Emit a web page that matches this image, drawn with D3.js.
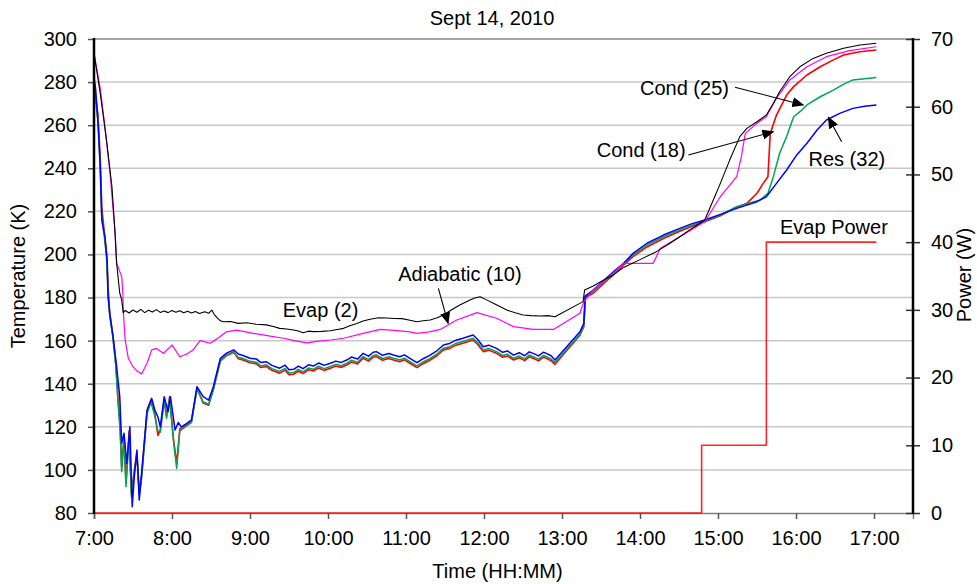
<!DOCTYPE html>
<html><head><meta charset="utf-8">
<script src="https://cdn.jsdelivr.net/npm/d3@7"></script>
<style>
html,body{margin:0;padding:0;background:#fff;}
text{font-family:"Liberation Sans",Arial,sans-serif;}
</style></head>
<body><svg id="c" width="977" height="584"></svg>
<script>
// ---- data (time in decimal hours, temperature in K, power in W) ----
const title = "Sept 14, 2010";
const hourTicks = [7,8,9,10,11,12,13,14,15,16,17];
const tempTicks = [80,100,120,140,160,180,200,220,240,260,280,300];
const powerTicks = [0,10,20,30,40,50,60,70];

const evap2 = [[7.00,293.4],[7.08,274.9],[7.16,253.1],[7.23,231.4],[7.27,210.0],[7.29,196.0],[7.33,182.1],[7.355,178.9],[7.375,172.9],[7.40,174.0],[7.45,172.8],[7.50,174.2],[7.55,173.2],[7.60,174.5],[7.65,173.0],[7.70,174.1],[7.75,173.3],[7.80,174.4],[7.85,173.1],[7.90,173.8],[7.95,173.0],[8.00,174.0],[8.05,173.2],[8.10,173.9],[8.15,172.9],[8.20,173.6],[8.25,172.8],[8.30,173.5],[8.35,172.6],[8.42,173.4],[8.47,172.7],[8.51,174.2],[8.54,172.2],[8.58,170.6],[8.62,169.2],[8.66,168.8],[8.75,168.9],[8.85,168.0],[8.96,168.3],[9.08,167.6],[9.21,167.3],[9.30,166.6],[9.38,165.7],[9.47,165.4],[9.56,164.9],[9.62,164.5],[9.68,163.7],[9.75,164.4],[9.81,164.2],[9.92,164.3],[10.03,164.6],[10.12,165.2],[10.20,165.7],[10.28,166.9],[10.37,168.0],[10.45,169.1],[10.54,169.9],[10.65,170.6],[10.75,170.5],[10.85,170.3],[10.95,170.2],[11.05,169.5],[11.14,168.8],[11.22,169.2],[11.31,169.6],[11.40,170.6],[11.48,171.9],[11.58,174.2],[11.69,176.5],[11.80,178.5],[11.88,179.8],[11.95,180.4],[12.04,178.8],[12.12,177.3],[12.21,175.7],[12.29,174.2],[12.40,172.9],[12.50,171.9],[12.60,171.6],[12.72,171.4],[12.82,171.6],[12.91,171.1],[13.27,178.1],[13.29,183.5],[13.40,185.4],[13.53,188.0],[13.66,190.5],[13.79,194.0],[14.00,197.6],[14.21,201.3],[14.36,204.6],[14.51,208.2],[14.67,212.2],[14.83,216.0],[14.94,225.3],[15.03,233.0],[15.15,243.8],[15.28,254.7],[15.37,258.5],[15.50,261.6],[15.62,264.7],[15.71,270.2],[15.79,275.5],[15.92,282.5],[16.05,287.1],[16.22,291.0],[16.39,293.4],[16.61,295.7],[16.82,297.2],[17.03,298.0]];

const adiabatic10 = [[7.00,293.4],[7.08,277.1],[7.14,259.3],[7.21,236.1],[7.27,210.0],[7.29,195.9],[7.355,189.7],[7.37,182.1],[7.375,174.2],[7.40,160.3],[7.44,151.8],[7.50,147.9],[7.55,146.0],[7.61,144.5],[7.68,149.5],[7.74,155.7],[7.80,156.4],[7.89,154.1],[8.00,158.0],[8.10,152.5],[8.19,153.8],[8.27,155.7],[8.36,160.0],[8.49,158.8],[8.60,161.5],[8.70,164.1],[8.83,164.9],[9.04,163.4],[9.24,162.2],[9.43,161.1],[9.60,159.8],[9.73,159.0],[9.88,159.8],[10.03,160.3],[10.20,161.1],[10.45,163.4],[10.67,165.2],[10.85,164.8],[11.05,164.1],[11.14,163.4],[11.30,164.1],[11.44,165.2],[11.65,169.6],[11.91,173.0],[12.16,170.4],[12.38,166.5],[12.63,165.2],[12.89,165.2],[13.23,172.7],[13.28,178.1],[13.40,183.5],[13.60,189.5],[13.79,195.9],[14.17,195.9],[14.26,202.9],[14.55,209.0],[14.83,215.2],[15.03,226.8],[15.24,236.1],[15.30,245.4],[15.35,256.2],[15.50,260.9],[15.62,263.9],[15.75,272.5],[15.92,281.0],[16.14,287.1],[16.39,291.8],[16.69,294.6],[17.03,296.4]];

const cond18 = [[7.00,277],[7.02,274],[7.05,265],[7.08,245],[7.10,222],[7.13,211],[7.16,201],[7.18,186],[7.20,173],[7.24,163],[7.28,149],[7.31,132],[7.335,121],[7.355,101],[7.385,116],[7.41,94],[7.45,118],[7.48,89],[7.51,98],[7.55,108],[7.58,90],[7.61,97],[7.64,110],[7.68,127],[7.73,132.5],[7.78,126],[7.82,116],[7.85,118.5],[7.90,133],[7.93,125],[7.97,134],[8.02,114],[8.06,103],[8.10,119],[8.19,121],[8.25,122.5],[8.32,138],[8.40,131],[8.47,130],[8.53,137.5],[8.62,150.8],[8.70,153.2],[8.79,154.8],[8.85,151.6],[8.92,150.9],[9.00,149.7],[9.08,149.3],[9.14,147.5],[9.21,148.0],[9.28,146.2],[9.38,144.9],[9.45,146.3],[9.50,144.2],[9.56,144.4],[9.62,145.9],[9.68,144.7],[9.75,146.5],[9.81,145.9],[9.88,147.3],[9.95,146.2],[10.03,147.2],[10.10,148.2],[10.17,147.6],[10.24,148.7],[10.30,150.1],[10.38,149.2],[10.45,151.8],[10.52,150.5],[10.58,152.3],[10.62,152.6],[10.70,150.9],[10.78,151.7],[10.84,151.0],[10.92,150.2],[10.98,151.1],[11.05,149.5],[11.14,147.5],[11.22,149.3],[11.31,151.0],[11.40,153.1],[11.48,155.7],[11.56,156.4],[11.64,157.9],[11.73,158.8],[11.80,159.6],[11.86,160.3],[11.92,158.2],[11.99,154.9],[12.06,155.6],[12.16,154.1],[12.24,152.3],[12.30,152.9],[12.38,151.0],[12.45,152.1],[12.52,150.7],[12.58,152.5],[12.63,151.8],[12.70,150.6],[12.76,152.3],[12.80,151.8],[12.86,150.7],[12.91,149.0],[13.23,162.5],[13.28,166.5],[13.30,180.0],[13.40,182.0],[13.53,186.3],[13.66,190.6],[13.79,195.0],[13.91,199.0],[14.09,203.5],[14.30,207.4],[14.51,210.8],[14.66,213.0],[14.83,215.2],[15.03,218.0],[15.24,222.0],[15.37,223.7],[15.50,228.4],[15.58,233.0],[15.64,236.1],[15.67,256.2],[15.75,264.7],[15.88,274.0],[15.97,277.9],[16.14,283.3],[16.31,287.1],[16.48,290.3],[16.61,292.6],[16.82,294.1],[17.03,294.9]];

const cond25 = [[7.00,276],[7.02,272],[7.05,262],[7.08,240],[7.10,217],[7.13,209],[7.16,199],[7.18,182],[7.20,172],[7.24,162],[7.28,148],[7.31,130],[7.335,118],[7.355,99.2],[7.385,114],[7.41,92.2],[7.45,116],[7.48,87.6],[7.51,96],[7.55,107],[7.58,88],[7.61,96],[7.64,109],[7.68,126],[7.73,131.5],[7.78,125],[7.82,118],[7.85,117.5],[7.90,132],[7.93,124],[7.97,133],[8.02,113],[8.06,100.7],[8.10,118],[8.19,120.5],[8.25,122],[8.32,137.5],[8.40,131.5],[8.47,130.5],[8.53,137],[8.62,150.5],[8.70,153],[8.79,154.5],[8.85,152.3],[8.92,151.6],[9.00,150.4],[9.08,150.0],[9.14,148.2],[9.21,148.8],[9.28,147.0],[9.38,145.7],[9.45,147.1],[9.50,145.0],[9.56,145.2],[9.62,146.7],[9.68,145.5],[9.75,147.3],[9.81,146.7],[9.88,148.1],[9.95,147.0],[10.03,148.0],[10.10,149.0],[10.17,148.4],[10.24,149.5],[10.30,150.9],[10.38,150.0],[10.45,152.6],[10.52,151.3],[10.58,153.1],[10.62,153.4],[10.70,151.7],[10.78,152.5],[10.84,151.8],[10.92,151.0],[10.98,151.9],[11.05,150.3],[11.14,148.3],[11.22,150.1],[11.31,151.8],[11.40,153.9],[11.48,156.5],[11.56,157.2],[11.64,158.7],[11.73,159.6],[11.80,160.4],[11.86,161.1],[11.92,159.0],[11.99,155.7],[12.06,156.4],[12.16,154.9],[12.24,153.1],[12.30,153.7],[12.38,151.8],[12.45,152.9],[12.52,151.5],[12.58,153.3],[12.63,152.6],[12.70,151.4],[12.76,153.1],[12.80,152.6],[12.86,151.5],[12.91,149.8],[13.23,163.0],[13.28,167.0],[13.30,181.0],[13.40,182.8],[13.53,187.0],[13.66,191.2],[13.79,195.5],[13.91,199.8],[14.09,204.3],[14.30,208.2],[14.51,211.4],[14.66,213.5],[14.83,215.5],[15.03,218.3],[15.24,222.2],[15.54,225.3],[15.64,228.4],[15.71,236.1],[15.79,247.0],[15.88,254.7],[15.97,263.9],[16.06,266.5],[16.14,269.4],[16.31,273.2],[16.48,276.3],[16.60,278.8],[16.73,281.0],[16.88,281.5],[17.03,282.1]];

const res32 = [[7.00,282.5],[7.02,277.1],[7.055,259.3],[7.08,240.7],[7.10,216.0],[7.14,208.2],[7.16,200.5],[7.17,195.9],[7.18,180.4],[7.205,171.9],[7.25,160.3],[7.29,147.9],[7.33,134.0],[7.355,112.4],[7.385,117.0],[7.42,103.0],[7.46,120.0],[7.49,82.9],[7.52,98.4],[7.55,109.2],[7.58,86.0],[7.61,98.4],[7.64,110.8],[7.68,127.8],[7.74,133.2],[7.78,127.8],[7.82,124.5],[7.85,120.0],[7.90,134.0],[7.95,127.0],[7.98,134.0],[8.04,118.5],[8.08,122.0],[8.12,120.0],[8.19,121.6],[8.25,123.2],[8.32,138.6],[8.40,134.0],[8.47,132.4],[8.53,138.6],[8.62,151.8],[8.70,154.2],[8.79,155.7],[8.85,153.8],[8.92,153.0],[9.00,151.8],[9.08,151.5],[9.14,149.8],[9.21,150.2],[9.28,148.5],[9.38,147.2],[9.45,148.6],[9.50,146.5],[9.56,146.7],[9.62,148.2],[9.68,147.0],[9.75,148.8],[9.81,148.2],[9.88,149.6],[9.95,148.5],[10.03,149.5],[10.10,150.5],[10.17,149.9],[10.24,151.0],[10.30,152.4],[10.38,151.5],[10.45,154.1],[10.52,152.8],[10.58,154.6],[10.62,154.9],[10.70,153.2],[10.78,154.0],[10.84,153.3],[10.92,152.5],[10.98,153.4],[11.05,151.8],[11.14,149.8],[11.22,151.6],[11.31,153.3],[11.40,155.4],[11.48,158.0],[11.56,158.7],[11.64,160.2],[11.73,161.1],[11.80,161.9],[11.86,162.6],[11.92,160.5],[11.99,157.2],[12.06,157.9],[12.16,156.4],[12.24,154.6],[12.30,155.2],[12.38,153.3],[12.45,154.4],[12.52,153.0],[12.58,154.8],[12.63,154.1],[12.70,152.9],[12.76,154.6],[12.80,154.1],[12.86,153.0],[12.91,151.0],[13.23,164.1],[13.28,168.0],[13.295,180.4],[13.40,183.5],[13.53,187.8],[13.66,192.0],[13.79,195.9],[13.91,200.5],[14.09,205.2],[14.30,209.0],[14.51,212.1],[14.66,214.2],[14.83,216.0],[15.03,218.6],[15.24,221.4],[15.50,224.5],[15.62,226.8],[15.75,233.0],[15.88,239.2],[16.01,246.2],[16.14,251.6],[16.27,257.8],[16.39,262.4],[16.56,265.5],[16.73,267.8],[16.88,268.8],[17.03,269.4]];

const evapPower = [[7.00,0],[14.79,0],[14.79,10],[15.62,10],[15.62,40],[17.03,40]];

// annotations: [label, textHour, textTemp, arrowFromHour, arrowFromTemp, arrowToHour, arrowToTemp]
const notes = [
  ["Evap (2)", 9.42, 171.0, null, null, null, null],
  ["Adiabatic (10)", 10.90, 187.8, 11.415, 184.3, 11.54, 168.0],
  ["Cond (25)", 14.00, 274.0, 15.218, 277.6, 16.094, 269.4],
  ["Cond (18)", 13.445, 245.4, 14.62, 246.2, 15.71, 257.0],
  ["Res (32)", 16.16, 241.1, 16.585, 252.3, 16.414, 263.7]
];
const powerNote = ["Evap Power", 15.795, 41.2];

// ---- chart ----
const svg = d3.select("#c");
const FONT = 20;
const x = d3.scaleLinear().domain([7, 17.5]).range([94, 913]);
const yT = d3.scaleLinear().domain([80, 300]).range([513, 39]);
const yP = d3.scaleLinear().domain([0, 70]).range([513, 39]);

svg.append("defs").append("clipPath").attr("id","clip")
  .append("rect").attr("x",94).attr("y",38).attr("width",819).attr("height",476);
const mk = svg.select("defs").append("marker").attr("id","arr")
  .attr("markerUnits","userSpaceOnUse").attr("markerWidth",12).attr("markerHeight",10)
  .attr("viewBox","0 0 12 10").attr("refX",11).attr("refY",5).attr("orient","auto");
mk.append("path").attr("d","M0,0 L12,5 L0,10 Z").attr("fill","#000");

// gridlines
svg.append("g").selectAll("line").data(tempTicks.filter(d=>d>80)).join("line")
  .attr("x1",x(7)).attr("x2",x(17.5)).attr("y1",d=>yT(d)).attr("y2",d=>yT(d))
  .attr("stroke",d=>d===300?"#8a8a8a":"#c8c8c8").attr("stroke-width",1.5);

// x axis
const gx = svg.append("g").attr("transform",`translate(0,${yT(80)})`)
  .call(d3.axisBottom(x).tickValues(hourTicks).tickFormat(d=>d+":00").tickSize(6).tickPadding(12));
gx.select(".domain").attr("stroke","#808080").attr("stroke-width",1.5);
gx.selectAll(".tick line").attr("stroke","#555").attr("stroke-width",1.5);
gx.selectAll("text").attr("font-size",FONT).attr("fill","#000").attr("font-family","Liberation Sans, Arial, sans-serif");

// left axis
const gy = svg.append("g").attr("transform",`translate(${x(7)},0)`)
  .call(d3.axisLeft(yT).tickValues(tempTicks).tickSize(6).tickPadding(11));
gy.select(".domain").remove();
gy.selectAll(".tick line").attr("stroke","#555").attr("stroke-width",1.5);
gy.selectAll("text").attr("font-size",FONT).attr("fill","#000").attr("font-family","Liberation Sans, Arial, sans-serif");

// right axis
const gr = svg.append("g").attr("transform",`translate(${x(17.5)},0)`)
  .call(d3.axisRight(yP).tickValues(powerTicks).tickSize(7).tickPadding(11));
gr.select(".domain").remove();
gr.selectAll(".tick line").attr("x1",-7).attr("stroke","#333").attr("stroke-width",1.5);
gr.selectAll("text").attr("font-size",FONT).attr("fill","#000").attr("font-family","Liberation Sans, Arial, sans-serif");

// series
const plot = svg.append("g").attr("clip-path","url(#clip)");
const lineT = d3.line().x(d=>x(d[0])).y(d=>yT(d[1]));
const lineP = d3.line().x(d=>x(d[0])).y(d=>yP(d[1]));
plot.append("path").datum(evapPower).attr("d",lineP).attr("fill","none").attr("stroke","#ff0000").attr("stroke-width",1.6).attr("stroke-opacity",0.85);
const series = [
  [cond18, "#ff0000", 1.6],
  [cond25, "#00a651", 1.5],
  [res32, "#0000ff", 1.5],
  [adiabatic10, "#ff00ff", 1.2],
  [evap2, "#000000", 1.1]
];
series.forEach(([data,col,w])=>{
  plot.append("path").datum(data).attr("d",lineT).attr("fill","none")
    .attr("stroke",col).attr("stroke-width",w).attr("stroke-linejoin","round");
});

// axis lines (black)
svg.append("line").attr("x1",x(7)).attr("x2",x(7)).attr("y1",yT(300)-1).attr("y2",yT(80)+1).attr("stroke","#000").attr("stroke-width",2.5);
svg.append("line").attr("x1",x(17.5)).attr("x2",x(17.5)).attr("y1",yT(300)-1).attr("y2",yT(80)+1).attr("stroke","#000").attr("stroke-width",2.5);

// annotations
const ann = svg.append("g").attr("font-size",FONT).attr("fill","#000");
notes.forEach(n=>{
  ann.append("text").attr("x",x(n[1])).attr("y",yT(n[2])).text(n[0]);
  if(n[3]!==null){
    ann.append("line").attr("x1",x(n[3])).attr("y1",yT(n[4])).attr("x2",x(n[5])).attr("y2",yT(n[6]))
      .attr("stroke","#000").attr("stroke-width",1.1).attr("marker-end","url(#arr)");
  }
});
ann.append("text").attr("x",x(powerNote[1])).attr("y",yP(powerNote[2])).text(powerNote[0]);

// title and axis titles
svg.append("text").attr("x",492).attr("y",25).attr("text-anchor","middle").attr("font-size",FONT).text(title);
svg.append("text").attr("x",(x(7)+x(17.5))/2-6).attr("y",578).attr("text-anchor","middle").attr("font-size",FONT).text("Time (HH:MM)");
svg.append("text").attr("transform",`translate(25,${(yT(300)+yT(80))/2})rotate(-90)`).attr("text-anchor","middle").attr("font-size",FONT).text("Temperature (K)");
svg.append("text").attr("transform",`translate(971,${(yT(300)+yT(80))/2-1})rotate(-90)`).attr("text-anchor","middle").attr("font-size",FONT).text("Power (W)");
</script></body></html>
